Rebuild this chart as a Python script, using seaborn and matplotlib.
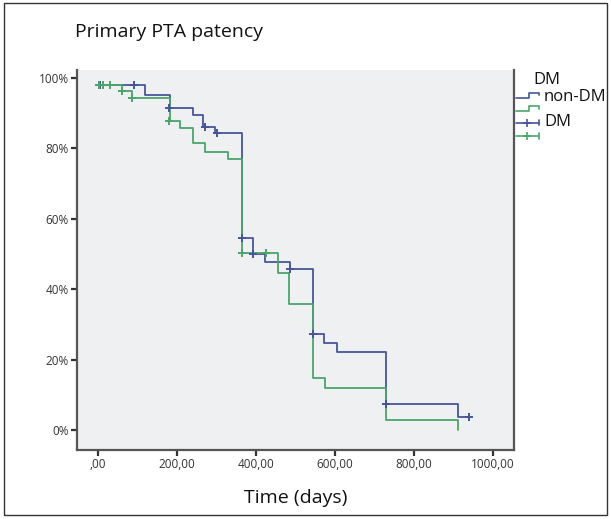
import matplotlib
matplotlib.use("Agg")
import matplotlib.pyplot as plt
import numpy as np
import pandas as pd
import seaborn as sns
from matplotlib.lines import Line2D
from matplotlib.legend_handler import HandlerBase
from matplotlib.patches import Rectangle

# Kaplan-Meier estimates (days, % patent) per group
nondm_days = [0, 120, 183, 241, 267, 297, 366, 394, 424, 487, 545, 573, 606, 730, 912, 939]
nondm_surv = [98.0, 95.2, 91.5, 89.5, 86.1, 84.4, 54.5, 50.0, 47.7, 45.7, 27.3, 24.7, 22.2, 7.4, 3.7, 3.7]
dm_days = [0, 62, 87, 183, 209, 241, 271, 330, 366, 456, 484, 545, 575, 730, 912]
dm_surv = [98.0, 96.3, 94.3, 87.8, 85.8, 81.5, 79.0, 77.0, 50.3, 44.6, 35.8, 14.8, 11.9, 2.8, 0.0]

# Censored observations
nondm_cens_days = [5, 92, 180, 272, 302, 366, 394, 487, 545, 730, 939]
nondm_cens_surv = [98.0, 98.0, 91.5, 86.1, 84.4, 54.5, 50.0, 45.7, 27.3, 7.4, 3.7]
dm_cens_days = [3, 14, 31, 62, 87, 181, 366, 425]
dm_cens_surv = [98.0, 98.0, 98.0, 96.3, 94.3, 87.8, 50.3, 50.3]

groups = ["non-DM", "DM"]
x_ticks = [0, 200, 400, 600, 800, 1000]
x_ticklabels = [",00", "200,00", "400,00", "600,00", "800,00", "1000,00"]
y_ticks = [0, 20, 40, 60, 80, 100]
y_ticklabels = ["0%", "20%", "40%", "60%", "80%", "100%"]

BLUE = "#46559a"
GREEN = "#4aa56a"
palette = {"non-DM": BLUE, "DM": GREEN}

curves = pd.concat([
    pd.DataFrame({"days": nondm_days, "surv": nondm_surv, "group": groups[0]}),
    pd.DataFrame({"days": dm_days, "surv": dm_surv, "group": groups[1]}),
])
censored = pd.concat([
    pd.DataFrame({"days": nondm_cens_days, "surv": nondm_cens_surv, "group": groups[0]}),
    pd.DataFrame({"days": dm_cens_days, "surv": dm_cens_surv, "group": groups[1]}),
])

sns.set_style("white")
plt.rcParams["font.family"] = ["Open Sans", "DejaVu Sans"]

W, H = 611, 519
fig = plt.figure(figsize=(W / 100, H / 100), dpi=100)
ax = fig.add_axes([77 / W, 1 - 450 / H, (514 - 77) / W, (450 - 70) / H])
ax.set_facecolor("#eff0f2")

sns.lineplot(data=curves, x="days", y="surv", hue="group", palette=palette,
             drawstyle="steps-post", estimator=None, sort=False,
             linewidth=1.3, legend=False, ax=ax)
sns.scatterplot(data=censored, x="days", y="surv", hue="group", palette=palette,
                marker="+", s=32, linewidth=1.4, legend=False, ax=ax, zorder=3)

ax.set_xlim(-52, 1053)
ax.set_ylim(-5.7, 102.3)
ax.set_xticks(x_ticks)
ax.set_xticklabels(x_ticklabels)
ax.set_yticks(y_ticks)
ax.set_yticklabels(y_ticklabels)
ax.tick_params(axis="both", direction="out", length=4, width=1.6, color="#333333",
               labelsize=8.5, labelcolor="#333333", pad=2, left=True, bottom=True)
ax.set_xlabel("Time (days)", fontsize=14, labelpad=13, color="#111111")
ax.set_ylabel("")

for side in ["left", "bottom", "right"]:
    ax.spines[side].set_visible(True)
    ax.spines[side].set_color("#555555")
    ax.spines[side].set_linewidth(1.6)
ax.spines["top"].set_visible(False)

fig.text(75 / W, 1 - 32 / H, "Primary PTA patency", fontsize=14, va="center",
         ha="left", color="#111111")


class StepHandler(HandlerBase):
    def create_artists(self, legend, orig_handle, xdescent, ydescent, width,
                       height, fontsize, trans):
        x0, y0 = -xdescent, -ydescent
        xs = [x0, x0 + 0.5 * width, x0 + 0.5 * width, x0 + 0.9 * width, x0 + 0.9 * width]
        ys = [y0 + 0.25 * height, y0 + 0.25 * height, y0 + 0.85 * height,
              y0 + 0.85 * height, y0 + 0.55 * height]
        ln = Line2D(xs, ys, color=orig_handle.get_color(), lw=1.2)
        ln.set_transform(trans)
        return [ln]


class CensorHandler(HandlerBase):
    def create_artists(self, legend, orig_handle, xdescent, ydescent, width,
                       height, fontsize, trans):
        x0, y0 = -xdescent, -ydescent
        ym = y0 + 0.5 * height
        ln = Line2D([x0, x0 + 0.9 * width], [ym, ym], color=orig_handle.get_color(), lw=1.2)
        tick = Line2D([x0 + 0.9 * width, x0 + 0.9 * width], [ym - 0.3 * height, ym + 0.3 * height],
                      color=orig_handle.get_color(), lw=1.2)
        mk = Line2D([x0 + 0.45 * width], [ym], marker="+", markersize=6, mew=1.2,
                    color=orig_handle.get_color(), linestyle="none")
        for a in (ln, tick, mk):
            a.set_transform(trans)
        return [ln, tick, mk]


h1 = Line2D([], [], color=BLUE)
h2 = Line2D([], [], color=GREEN)
h3 = Line2D([], [], color=BLUE)
h4 = Line2D([], [], color=GREEN)
leg = ax.legend(handles=[h1, h2, h3, h4], labels=["", "", "", ""],
                handler_map={h1: StepHandler(), h2: StepHandler(),
                             h3: CensorHandler(), h4: CensorHandler()},
                loc="upper left", bbox_to_anchor=(516 / W, 1 - 91 / H),
                bbox_transform=fig.transFigure, frameon=False, fontsize=7,
                handlelength=2.6, handleheight=1.0, handletextpad=0.0,
                labelspacing=0.25, borderpad=0, borderaxespad=0)

fig.text(533 / W, 1 - 80 / H, "DM", fontsize=12, va="center", ha="left", color="#111111")
fig.text(544 / W, 1 - 97 / H, "non-DM", fontsize=12, va="center", ha="left", color="#111111")
fig.text(544 / W, 1 - 122 / H, "DM", fontsize=12, va="center", ha="left", color="#111111")

# outer frame around the whole figure
fig.patches.append(Rectangle((4 / W, 4 / H), 1 - 8 / W, 1 - 7 / H, transform=fig.transFigure,
                             fill=False, edgecolor="#333333", linewidth=1.0))

fig.savefig("out.png", dpi=100)
